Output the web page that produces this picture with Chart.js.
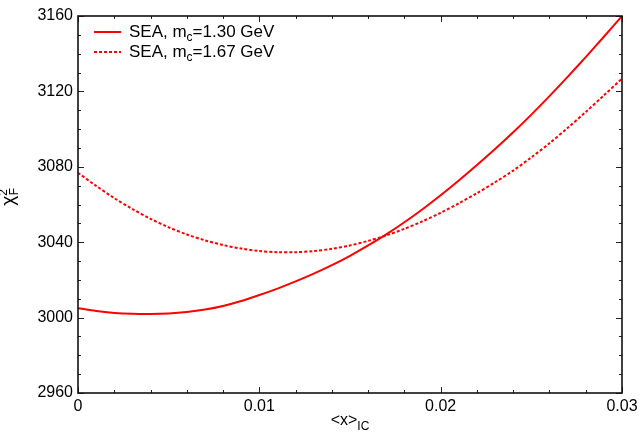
<!DOCTYPE html>
<html>
<head>
<meta charset="utf-8">
<script src="https://cdn.jsdelivr.net/npm/chart.js"></script>
<style>
  body { margin: 0; background: #fff; }
</style>
</head>
<body>
<canvas id="myChart" width="642" height="437"></canvas>
<script>
// <x>_IC values
const xVals = [0, 0.001, 0.002, 0.003, 0.004, 0.005, 0.006, 0.007, 0.008, 0.009,
  0.010, 0.011, 0.012, 0.013, 0.014, 0.015, 0.016, 0.017, 0.018, 0.019,
  0.020, 0.021, 0.022, 0.023, 0.024, 0.025, 0.026, 0.027, 0.028, 0.029, 0.030];

// chi2_F, SEA mc=1.30 GeV (solid)
const chiSolid = [3005.0, 3003.5, 3002.5, 3002.0, 3001.9, 3002.2, 3003.0, 3004.3, 3006.2, 3008.8,
  3012.0, 3015.4, 3019.2, 3023.3, 3027.8, 3032.8, 3038.3, 3044.2, 3050.6, 3057.5,
  3064.9, 3072.7, 3080.9, 3089.4, 3098.3, 3107.7, 3117.5, 3127.7, 3138.2, 3149.0, 3160.0];

// chi2_F, SEA mc=1.67 GeV (dashed)
const chiDashed = [3076.8, 3069.9, 3063.4, 3057.6, 3052.4, 3047.9, 3044.1, 3041.0, 3038.5, 3036.6,
  3035.3, 3034.7, 3034.7, 3035.3, 3036.5, 3038.3, 3040.7, 3043.6, 3047.1, 3051.1,
  3055.6, 3060.6, 3066.0, 3071.8, 3078.0, 3085.0, 3092.5, 3100.6, 3109.1, 3117.9, 3126.8];

const xTickLabels = ['0', '0.01', '0.02', '0.03'];
const legendLabels = [['SEA, m', 'c', '=1.30 GeV'], ['SEA, m', 'c', '=1.67 GeV']];

const FONT = '"Liberation Sans", Arial, Helvetica, sans-serif';
Chart.defaults.font.family = FONT;
Chart.defaults.font.size = 16;
Chart.defaults.color = '#000';

function toPoints(ys) {
  return xVals.map((x, i) => ({ x: x, y: ys[i] }));
}

// text with a subscript piece in the middle
function drawSub(ctx, parts, x, y, size) {
  ctx.font = size + 'px ' + FONT;
  ctx.fillText(parts[0], x, y);
  x += ctx.measureText(parts[0]).width;
  ctx.font = Math.round(size * 0.68) + 'px ' + FONT;
  ctx.fillText(parts[1], x, y + 4);
  x += ctx.measureText(parts[1]).width;
  ctx.font = size + 'px ' + FONT;
  ctx.fillText(parts[2], x, y);
}

const framePlugin = {
  id: 'framePlugin',
  afterDraw(chart) {
    const ctx = chart.ctx;
    const a = chart.chartArea;
    const xs = chart.scales.x, ys = chart.scales.y;
    ctx.save();

    // inward ticks on all four sides
    ctx.strokeStyle = '#222';
    ctx.lineWidth = 1;
    ctx.beginPath();
    for (let v = 0; v <= 0.03 + 1e-9; v += 0.002) {
      const px = Math.round(xs.getPixelForValue(v)) + 0.5;
      const major = Math.abs(v * 100 - Math.round(v * 100)) < 1e-6;
      const len = major ? 6 : 3;
      ctx.moveTo(px, a.bottom); ctx.lineTo(px, a.bottom - len);
      ctx.moveTo(px, a.top); ctx.lineTo(px, a.top + len);
    }
    for (let v = 2960; v <= 3160; v += 10) {
      const py = Math.round(ys.getPixelForValue(v)) + 0.5;
      const len = (v % 40 === 0) ? 6 : 3;
      ctx.moveTo(a.left, py); ctx.lineTo(a.left + len, py);
      ctx.moveTo(a.right, py); ctx.lineTo(a.right - len, py);
    }
    ctx.stroke();

    // frame
    ctx.strokeStyle = '#111';
    ctx.lineWidth = 1.6;
    ctx.strokeRect(a.left, a.top, a.right - a.left, a.bottom - a.top);

    // legend
    ctx.fillStyle = '#000';
    ctx.textAlign = 'left';
    ctx.textBaseline = 'alphabetic';
    const rows = [32, 52];
    chart.data.datasets.forEach((ds, i) => {
      ctx.strokeStyle = ds.borderColor;
      ctx.lineWidth = ds.borderWidth;
      ctx.setLineDash(ds.borderDash || []);
      ctx.beginPath();
      ctx.moveTo(94, rows[i]); ctx.lineTo(121, rows[i]);
      ctx.stroke();
      ctx.setLineDash([]);
      drawSub(ctx, legendLabels[i], 129, rows[i] + 5, 17);
    });

    // x title  <x>_IC
    ctx.font = '16px ' + FONT;
    const w1 = ctx.measureText('<x>').width;
    ctx.font = '12px ' + FONT;
    const w2 = ctx.measureText('IC').width;
    const cx = (a.left + a.right) / 2 - (w1 + w2) / 2;
    ctx.font = '16px ' + FONT;
    ctx.fillText('<x>', cx, 425);
    ctx.font = '12px ' + FONT;
    ctx.fillText('IC', cx + w1, 430);

    // y title  chi^2_F
    ctx.translate(14, 197);
    ctx.rotate(-Math.PI / 2);
    ctx.font = '19px ' + FONT;
    const wc = ctx.measureText('χ').width;
    ctx.font = '12px ' + FONT;
    const wf = ctx.measureText('F').width;
    const sx = -(wc + wf) / 2;
    ctx.font = '19px ' + FONT;
    ctx.fillText('χ', sx, 0);
    ctx.font = '12px ' + FONT;
    ctx.fillText('2', sx + wc, -7);
    ctx.fillText('F', sx + wc + 0.5, 4);
    ctx.restore();
  }
};

const ctx = document.getElementById('myChart').getContext('2d');
const myChart = new Chart(ctx, {
  type: 'line',
  data: {
    datasets: [{
      label: 'SEA, mc=1.30 GeV',
      data: toPoints(chiSolid),
      borderColor: '#ff0000',
      borderWidth: 2,
      pointRadius: 0,
      tension: 0.3,
      fill: false
    }, {
      label: 'SEA, mc=1.67 GeV',
      data: toPoints(chiDashed),
      borderColor: '#ff0000',
      borderWidth: 2,
      borderDash: [3, 2],
      pointRadius: 0,
      tension: 0.3,
      fill: false
    }]
  },
  options: {
    responsive: false,
    animation: false,
    devicePixelRatio: 1,
    layout: { padding: { left: 0, right: 20, top: 16, bottom: 0 } },
    plugins: { legend: { display: false }, tooltip: { enabled: false } },
    scales: {
      x: {
        type: 'linear',
        min: 0,
        max: 0.03,
        grid: { display: false, drawTicks: false },
        border: { display: false },
        ticks: {
          stepSize: 0.01,
          padding: 4,
          maxRotation: 0,
          autoSkip: false,
          callback: (v) => xTickLabels[Math.round(v * 100)]
        },
        afterFit: (s) => { s.height = 44; }
      },
      y: {
        min: 2960,
        max: 3160,
        grid: { display: false, drawTicks: false },
        border: { display: false },
        ticks: { stepSize: 40, padding: 5, callback: (v) => String(v) },
        afterFit: (s) => { s.width = 78; }
      }
    }
  },
  plugins: [framePlugin]
});
</script>
</body>
</html>
